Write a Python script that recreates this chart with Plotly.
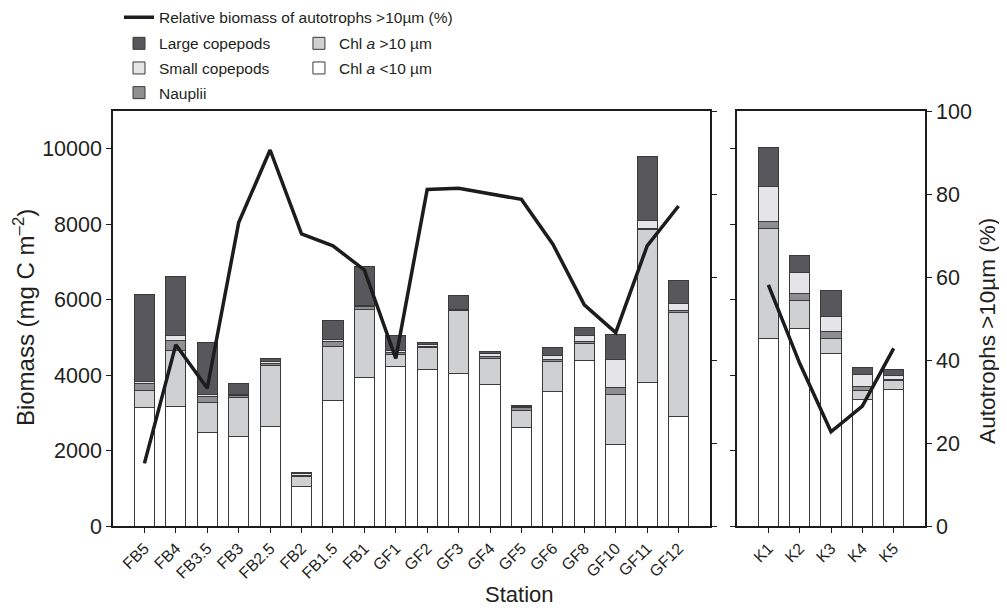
import plotly.graph_objects as go

# ---------------- data ----------------
stations_left = ["FB5", "FB4", "FB3.5", "FB3", "FB2.5", "FB2", "FB1.5", "FB1", "GF1",
                 "GF2", "GF3", "GF4", "GF5", "GF6", "GF8", "GF10", "GF11", "GF12"]
chl_small_left = [3130, 3160, 2490, 2380, 2650, 1040, 3330, 3930, 4220,
                  4160, 4040, 3750, 2620, 3570, 4380, 2160, 3810, 2900]
chl_large_left = [450, 1500, 780, 1030, 1600, 270, 1440, 1820, 330,
                  570, 1660, 690, 450, 800, 470, 1330, 4050, 2770]
nauplii_left = [200, 260, 150, 50, 60, 40, 110, 60, 50,
                40, 30, 60, 60, 50, 50, 180, 30, 40]
small_cop_left = [60, 120, 70, 30, 50, 30, 60, 30, 40,
                  50, 20, 60, 40, 110, 150, 740, 200, 190]
large_cop_left = [2300, 1580, 1380, 290, 80, 40, 510, 1050, 400,
                  40, 350, 70, 30, 210, 210, 660, 1710, 600]
auto_left = [15.1, 43.7, 33.2, 73.1, 90.6, 70.4, 67.5, 61.7, 40.4,
             81.1, 81.4, 80.0, 78.7, 67.9, 53.3, 46.6, 67.5, 77.1]

stations_right = ["K1", "K2", "K3", "K4", "K5"]
chl_small_right = [4960, 5240, 4580, 3340, 3620]
chl_large_right = [2920, 740, 380, 260, 230]
nauplii_right = [200, 180, 200, 110, 30]
small_cop_right = [930, 560, 380, 310, 110]
large_cop_right = [1010, 460, 690, 180, 160]
auto_right = [58.1, 39.2, 22.7, 28.9, 42.8]

biomass_ticks = [0, 2000, 4000, 6000, 8000, 10000]
pct_ticks = [0, 20, 40, 60, 80, 100]

# ---------------- styling ----------------
FONT = "Liberation Sans, Arial, sans-serif"
TXT = "#231f20"
series = [
    ("Chl <i>a</i> &lt;10 µm", "#ffffff", chl_small_left, chl_small_right, "legend3"),
    ("Chl <i>a</i> >10 µm", "#cfd0d2", chl_large_left, chl_large_right, "legend3"),
    ("Nauplii", "#8f8f92", nauplii_left, nauplii_right, "legend2"),
    ("Small copepods", "#e5e5e7", small_cop_left, small_cop_right, "legend2"),
    ("Large copepods", "#58575c", large_cop_left, large_cop_right, "legend2"),
]
legend_rank = {"Large copepods": 1, "Small copepods": 2, "Nauplii": 3,
               "Chl <i>a</i> >10 µm": 1, "Chl <i>a</i> &lt;10 µm": 2}

fig = go.Figure()
for name, color, lv, rv, lg in series:
    fig.add_trace(go.Bar(
        x=stations_left, y=lv, name=name, marker=dict(color=color, line=dict(color="#3a3a3a", width=1)),
        xaxis="x", yaxis="y", legend=lg, legendgroup=name, legendrank=legend_rank[name], showlegend=True))
    fig.add_trace(go.Bar(
        x=stations_right, y=rv, name=name, marker=dict(color=color, line=dict(color="#3a3a3a", width=1)),
        xaxis="x2", yaxis="y2", legend=lg, legendgroup=name, showlegend=False))

fig.add_trace(go.Scatter(
    x=stations_left, y=auto_left, mode="lines", name="Relative biomass of autotrophs >10µm (%)",
    line=dict(color="#1c1c1c", width=3.5), xaxis="x", yaxis="y3", legend="legend",
    legendgroup="line"))
fig.add_trace(go.Scatter(
    x=stations_right, y=auto_right, mode="lines", name="Relative biomass of autotrophs >10µm (%)",
    line=dict(color="#1c1c1c", width=3.5), xaxis="x2", yaxis="y4", showlegend=False,
    legendgroup="line"))

axis_common = dict(showline=True, linecolor="#1c1c1c", linewidth=1.5, ticks="outside",
                   ticklen=5, tickcolor="#1c1c1c", showgrid=False, zeroline=False)

legend_common = dict(font=dict(family=FONT, size=15.5, color=TXT), bgcolor="rgba(0,0,0,0)",
                     xanchor="left", yanchor="top", tracegroupgap=1.5, itemclick=False,
                     itemdoubleclick=False)

# page body has an 8px default margin, so the figure is 8px smaller than the window
fig.update_layout(
    width=999, height=607,
    margin=dict(l=105, r=82, t=103, b=89, autoexpand=False),
    paper_bgcolor="white", plot_bgcolor="white",
    font=dict(family=FONT, color=TXT),
    barmode="stack", bargap=0.36,
    xaxis=dict(domain=[0, 0.7352], range=[-1, 18], mirror=True, tickangle=-45,
               tickfont=dict(size=16), anchor="y", **axis_common),
    xaxis2=dict(domain=[0.7685, 1], range=[-1, 5], mirror=True, tickangle=-45,
                tickfont=dict(size=16), anchor="y2", **axis_common),
    yaxis=dict(range=[0, 11000], tickvals=biomass_ticks, tickformat="d", tickfont=dict(size=21.5),
               anchor="x", **axis_common),
    yaxis2=dict(range=[0, 11000], tickvals=biomass_ticks, showticklabels=False,
                anchor="x2", **axis_common),
    yaxis3=dict(range=[0, 100], tickvals=pct_ticks, showticklabels=False, overlaying="y",
                side="right", anchor="x", **axis_common),
    yaxis4=dict(range=[0, 100], tickvals=pct_ticks, tickfont=dict(size=21.5), overlaying="y2",
                side="right", anchor="x2", **axis_common),
    legend=dict(x=0.0074, y=1.266, **legend_common),
    legend2=dict(x=0.0074, y=1.203, **legend_common),
    legend3=dict(x=0.229, y=1.203, **legend_common),
    annotations=[
        dict(text="Station", x=0.501, y=-0.166, xref="paper", yref="paper",
             showarrow=False, font=dict(size=22, color=TXT), xanchor="center", yanchor="middle"),
        dict(text="Biomass (mg C m<sup>–2</sup>)", x=-0.1096, y=0.501, xref="paper", yref="paper",
             textangle=-90, showarrow=False, font=dict(size=24, color=TXT),
             xanchor="center", yanchor="middle"),
        dict(text="Autotrophs >10µm (%)", x=1.0775, y=0.47, xref="paper", yref="paper",
             textangle=-90, showarrow=False, font=dict(size=22.5, color=TXT),
             xanchor="center", yanchor="middle"),
    ],
)

fig.write_html("out.html")
